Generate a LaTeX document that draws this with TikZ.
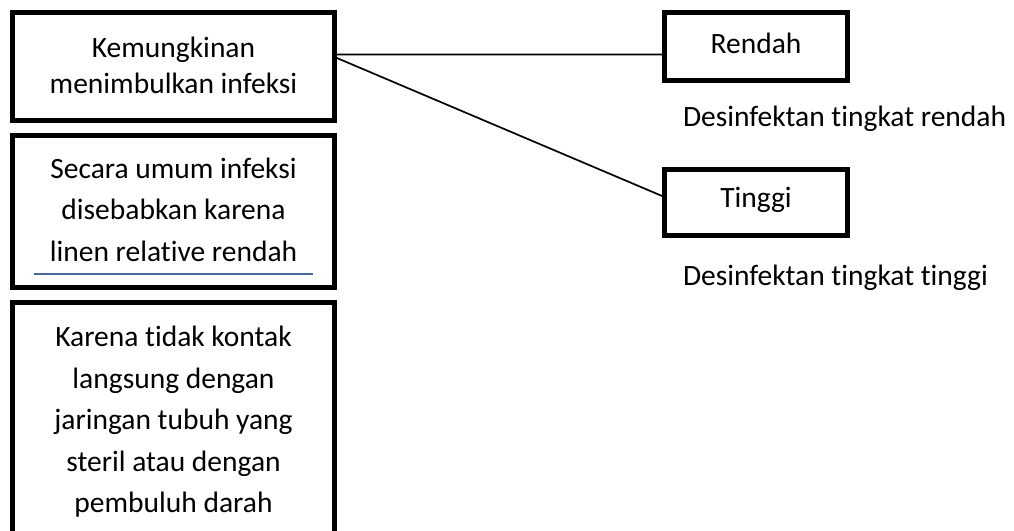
\documentclass[tikz,border=0pt]{standalone}
\usepackage{fontspec}
\setmainfont{Carlito}[Ligatures=NoCommon]
\usetikzlibrary{calc}
\definecolor{ulblue}{RGB}{70,104,152}
\begin{document}
\begin{tikzpicture}[x=1pt,y=-1pt,
  frame/.style={draw=black,line width=5pt,rectangle,inner sep=0pt,outer sep=0pt,fill=none},
  txt/.style={inner sep=0pt,outer sep=0pt,align=center,font=\fontsize{29.5}{41.5}\selectfont},
  conn/.style={draw=black,line width=1.7pt}]
\useasboundingbox (0,0) rectangle (1014,530);
% left column frames
\node[frame,minimum width=322pt,minimum height=108pt] (b1) at (173.5,66.5) {};
\node[frame,minimum width=322pt,minimum height=151.5pt] (b2) at (173.5,211.25) {};
\node[frame,minimum width=322pt,minimum height=258pt] (b3) at (173.5,431) {};
% right frames
\node[frame,minimum width=183pt,minimum height=68pt] (r) at (756,46.5) {};
\node[frame,minimum width=183pt,minimum height=66pt] (t) at (756,202.5) {};
% texts
\node[txt,font=\fontsize{29.5}{36.5}\selectfont] (b1t) at (173.5,65.5) {Kemungkinan\\menimbulkan infeksi};
\node[txt] (b2t) at (173.5,209.5) {Secara umum infeksi\\disebabkan karena\\linen relative rendah};
\node[txt] (b3t) at (173.5,422) {Karena tidak kontak\\langsung dengan\\jaringan tubuh yang\\steril atau dengan\\pembuluh darah};
\node[txt] (rt) at (756,43) {Rendah};
\node[txt] (tt) at (756,200) {Tinggi};
\node[txt,anchor=base west] (d1) at (683,126) {Desinfektan tingkat rendah};
\node[txt,anchor=base west] (d2) at (683,285) {Desinfektan tingkat tinggi};
% blue underline
\coordinate (u1) at (34,274);
\coordinate (u2) at (313,274);
\draw[ulblue,line width=2.5pt] (u1) -- (u2);
% connectors
\draw[conn] ($(b1.north east)!0.389!(b1.south east)$) -- ($(r.north west)!0.618!(r.south west)$);
\draw[conn] ($(b1.north east)!0.412!(b1.south east)$) -- ($(t.north west)!0.417!(t.south west)$);
\end{tikzpicture}
\end{document}
